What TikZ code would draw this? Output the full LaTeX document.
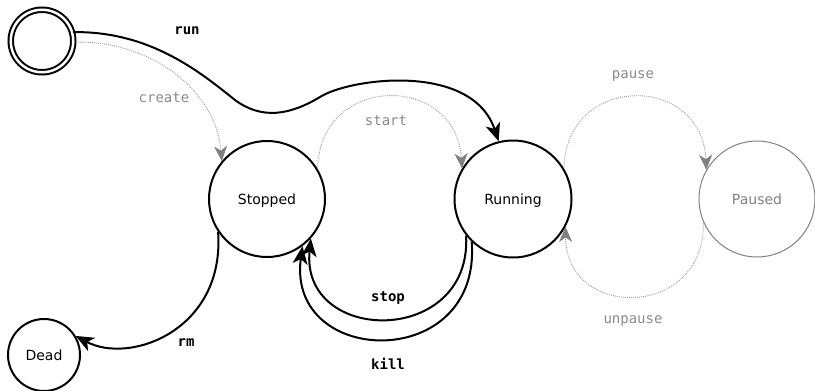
\documentclass[tikz,border=0pt]{standalone}
\usepackage{fontspec}
\setmainfont{DejaVu Sans}
\newfontfamily\monofont{DejaVu Sans Mono}
\usetikzlibrary{arrows.meta}
\definecolor{pgray}{HTML}{808080}
\definecolor{lgray}{HTML}{999999}
\tikzset{
  state/.style={circle, draw, line width=2pt, inner sep=0pt, minimum size=116pt,
    text depth=0pt, font=\fontsize{14}{16}\selectfont},
  gstate/.style={state, draw=pgray, line width=1pt, text=pgray},
  main/.style={line width=2pt, -{Stealth[length=18pt,width=15pt,inset=5pt]}},
  aux/.style={draw=lgray, line width=0.9pt, dash pattern=on 0.9pt off 1.1pt,
    -{Stealth[length=15pt,width=13pt,inset=4.5pt,fill=pgray,color=pgray]}},
  blab/.style={font=\monofont\bfseries\fontsize{14}{16}\selectfont},
  glab/.style={font=\monofont\fontsize{14}{16}\selectfont, text=lgray!90!black},
}
\begin{document}
\begin{tikzpicture}[x=1pt,y=-1pt]
\useasboundingbox (0,0) rectangle (815,391);
% nodes
\node[circle, draw, line width=2pt, double, double distance=2.5pt, inner sep=0pt,
      minimum size=62.5pt] (init) at (42,41) {};
\node[state] (stopped) at (267,199) {Stopped};
\node[state, minimum size=117pt] (running) at (513,199) {Running};
\node[gstate] (paused) at (757,199) {Paused};
\node[state, minimum size=72pt] (dead) at (44,355) {Dead};
% labels
\node[blab] (lrun) at (187,31) {run};
\node[glab] (lcreate) at (164,98) {create};
\node[glab] (lstart) at (386,121) {start};
\node[glab] (lpause) at (633,76) {pause};
\node[glab] (lunpause) at (633,321) {unpause};
\node[blab] (lstop) at (388,298) {stop};
\node[blab] (lkill) at (388,364) {kill};
\node[blab] (lrm) at (186,343) {rm};
% connectors
\draw[main] (init.16) .. controls (150,31) and (200,72) .. (235,100)
   .. controls (262,120) and (290,115) .. (320,97)
   .. controls (350,78) and (472,62) .. (running.104);
\draw[aux] (init.-2) .. controls (150,40) and (216,90) .. (stopped.140);
\draw[aux] (stopped.31) .. controls (320,73) and (456,73) .. (running.149);
\draw[aux] (running.31) .. controls (566,73) and (702,73) .. (paused.150);
\draw[aux] (paused.204) .. controls (704,320) and (566,320) .. (running.332);
\draw[main] (running.218) .. controls (472,347) and (300,345) .. (stopped.318);
\draw[main] (running.226) .. controls (482,373) and (286,368) .. (stopped.307);
\draw[main] (stopped.214) .. controls (225,330) and (130,365) .. (dead.31);
\end{tikzpicture}
\end{document}
